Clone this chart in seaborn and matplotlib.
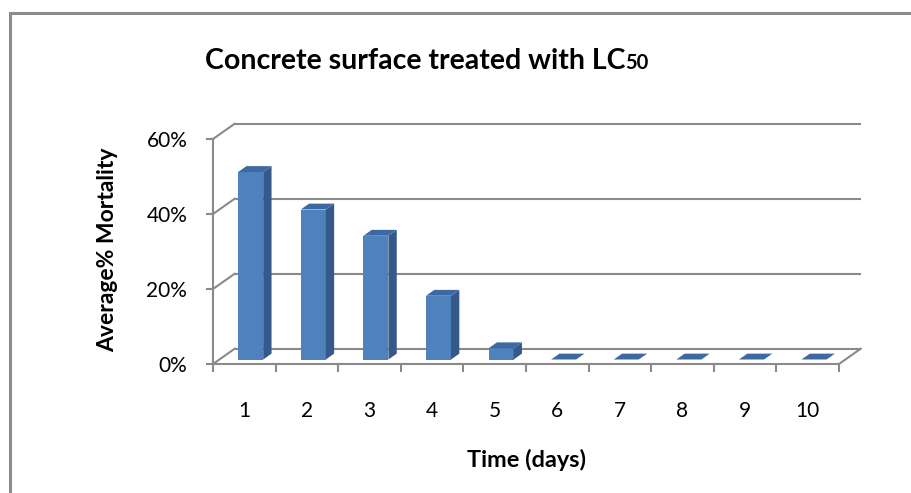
import matplotlib
matplotlib.use("Agg")
import matplotlib.pyplot as plt
from matplotlib.patches import Polygon
from matplotlib.lines import Line2D
import seaborn as sns
import pandas as pd

# Data
days = ["1", "2", "3", "4", "5", "6", "7", "8", "9", "10"]
mortality = [0.50, 0.40, 0.33, 0.17, 0.03, 0.0, 0.0, 0.0, 0.0, 0.0]
y_ticks = [0.0, 0.2, 0.4, 0.6]
y_tick_labels = ["0%", "20%", "40%", "60%"]

df = pd.DataFrame({"day": days, "mortality": mortality})

sns.set_theme(style="white")
plt.rcParams["font.family"] = ["Lato", "DejaVu Sans"]

W, H, DPI = 912, 493, 100
fig = plt.figure(figsize=(W / DPI, H / DPI), dpi=DPI, facecolor="white")

# Front plane of the pseudo-3D plot
ax = fig.add_axes([213 / W, 1 - 364 / H, 626 / W, 225 / H])
ax.patch.set_visible(False)

FRONT = "#4F81BD"
SIDE = "#34598A"
TOP = "#3D69A2"
GRID = "#8A8A8A"

sns.barplot(data=df, x="day", y="mortality", order=days, color=FRONT,
            saturation=1, width=0.4, errorbar=None, ax=ax, zorder=3,
            linewidth=0)

ax.set_xlim(-0.5, len(days) - 0.5)
ax.set_ylim(0, 0.6)

# Oblique depth of the chart box, in data units (x: categories, y: value)
DX, DY = 0.351, 0.0413
Z0, Z1 = 0.29, 0.67   # bar depth range, as a fraction of the box depth

x_lo, x_hi = ax.get_xlim()

# Back wall gridlines and side-wall connectors
for v in y_ticks:
    ax.plot([x_lo + DX, x_hi + DX], [v + DY, v + DY], color=GRID, lw=1.5,
            clip_on=False, zorder=1, solid_capstyle="butt")
    ax.plot([x_lo, x_lo + DX], [v, v + DY], color=GRID, lw=1.5,
            clip_on=False, zorder=1)
# Right edge of the floor
ax.plot([x_hi, x_hi + DX], [0, DY], color=GRID, lw=1.5, clip_on=False, zorder=1)

# Give each column its depth: shift the front face and add side and top faces
for rect in list(ax.patches):
    x0, w, h = rect.get_x(), rect.get_width(), rect.get_height()
    rect.set_xy((x0 + Z0 * DX, Z0 * DY))
    xr = x0 + w
    side = [(xr + Z0 * DX, Z0 * DY), (xr + Z0 * DX, h + Z0 * DY),
            (xr + Z1 * DX, h + Z1 * DY), (xr + Z1 * DX, Z1 * DY)]
    top = [(x0 + Z0 * DX, h + Z0 * DY), (xr + Z0 * DX, h + Z0 * DY),
           (xr + Z1 * DX, h + Z1 * DY), (x0 + Z1 * DX, h + Z1 * DY)]
    ax.add_patch(Polygon(side, closed=True, facecolor=SIDE, edgecolor="none",
                         zorder=3, clip_on=False))
    ax.add_patch(Polygon(top, closed=True, facecolor=TOP, edgecolor="none",
                         zorder=3, clip_on=False))

# Spines: only the front floor edge and front vertical axis
for s in ["top", "right"]:
    ax.spines[s].set_visible(False)
for s in ["left", "bottom"]:
    ax.spines[s].set_color(GRID)
    ax.spines[s].set_linewidth(1.5)
    ax.spines[s].set_zorder(1)

# Y axis ticks
ax.set_yticks(y_ticks)
ax.set_yticklabels(y_tick_labels)
ax.tick_params(axis="y", which="major", direction="out", length=5, width=1.5,
               color=GRID, pad=13.5, labelsize=15, labelcolor="black", left=True)

# X axis: labels at category centres, tick marks at category boundaries
ax.set_xticks(range(len(days)))
ax.set_xticklabels(days)
ax.set_xticks([i - 0.5 for i in range(len(days) + 1)], minor=True)
ax.tick_params(axis="x", which="major", length=0, pad=26.5, labelsize=15,
               labelcolor="black")
ax.tick_params(axis="x", which="minor", direction="out", length=5.8, width=1.5,
               color=GRID, bottom=True)

ax.set_xlabel("Time (days)", fontsize=16.9, fontweight="bold", color="black")
ax.xaxis.set_label_coords(527 / W, 1 - 467 / H, transform=fig.transFigure)
ax.xaxis.label.set_va("baseline")

ax.set_ylabel("Average% Mortality", fontsize=16.5, fontweight="bold", color="black")
ax.yaxis.set_label_coords(108 / W, 1 - 250 / H, transform=fig.transFigure)
ax.yaxis.label.set_va("center")

# Title with the smaller "50"
title = fig.text(205 / W, 1 - 69 / H, "Concrete surface treated with LC",
                 fontsize=20.5, fontweight="bold", va="baseline", ha="left",
                 color="black")
sub = plt.Annotation("50", xy=(1, 1 - 69 / H), xycoords=(title, "figure fraction"),
                     xytext=(-0.5, 0), textcoords="offset points",
                     fontsize=14.5, fontweight="bold", va="baseline",
                     ha="left", color="black")
sub.set_figure(fig)
fig.texts.append(sub)

# Chart area border (continues past the right and bottom edges)
fig.add_artist(Line2D([9.8 / W, 9.8 / W, 1.0], [0.0, 1 - 13 / H, 1 - 13 / H],
                      transform=fig.transFigure, color="#8C8C8C", lw=2.2,
                      solid_joinstyle="miter"))

fig.savefig("out.png", dpi=DPI, facecolor="white")
